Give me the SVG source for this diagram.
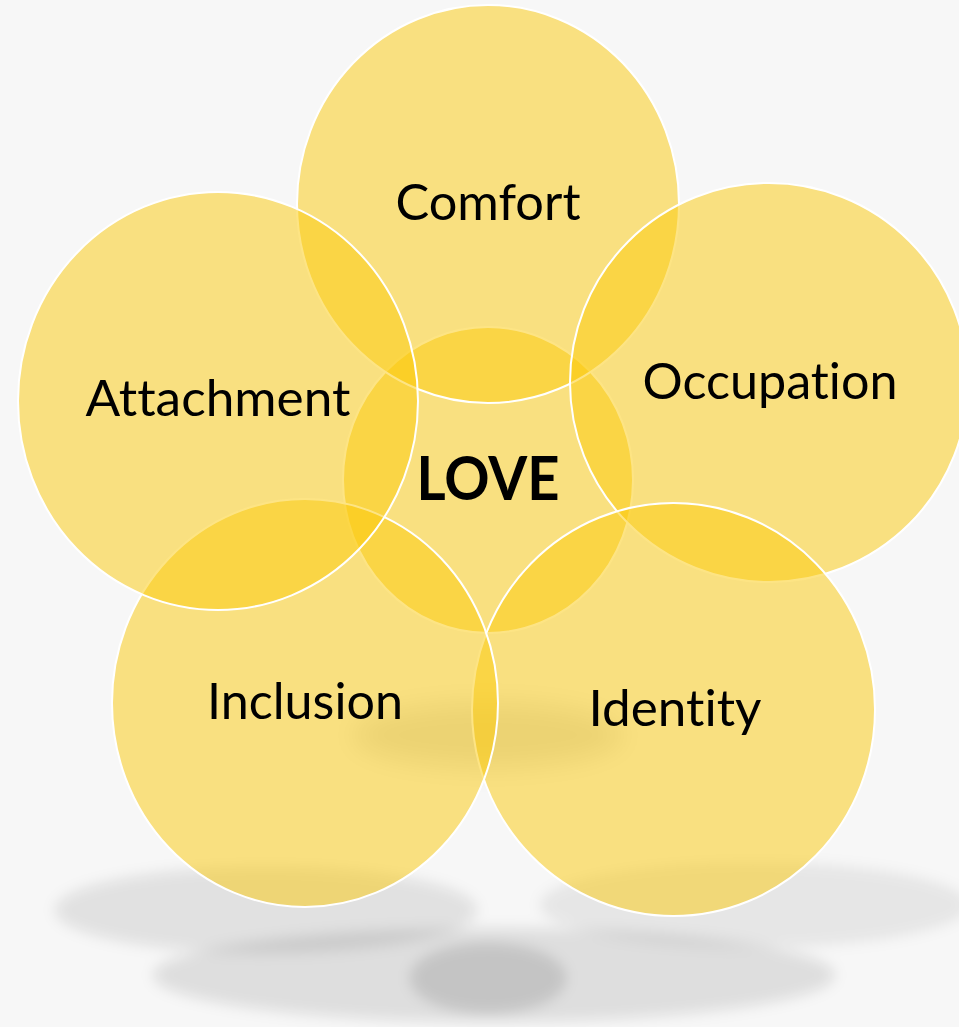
<svg xmlns="http://www.w3.org/2000/svg" width="959" height="1027" viewBox="0 0 959 1027">
<style>
.c{fill:#FBC909;fill-opacity:0.5;stroke:#FFFFFF;stroke-width:2}
.t{font-family:Lato,"Liberation Sans",sans-serif;font-size:50px;fill:#000;text-anchor:middle;font-variant-ligatures:none;font-feature-settings:"liga" 0}
.b{font-family:Lato,"Liberation Sans",sans-serif;font-size:62px;font-weight:bold;fill:#000;text-anchor:middle}
.s{fill:#000}
</style>
<defs>
<filter id="blur" x="-30%" y="-60%" width="160%" height="220%"><feGaussianBlur stdDeviation="7"/></filter>
<filter id="blur2" x="-40%" y="-100%" width="180%" height="300%"><feGaussianBlur stdDeviation="13"/></filter>
</defs>
<rect width="959" height="1027" fill="#F7F7F7"/>
<g id="shadows">
<g filter="url(#blur)">
<ellipse class="s" cx="266" cy="910" rx="211" ry="43" fill-opacity="0.09"/>
<ellipse class="s" cx="754" cy="905" rx="214" ry="42" fill-opacity="0.07"/>
<ellipse class="s" cx="494" cy="975" rx="341" ry="47" fill-opacity="0.1"/>
<ellipse class="s" cx="488" cy="978" rx="78" ry="35" fill-opacity="0.12"/>
</g>
<ellipse class="s" cx="488" cy="735" rx="135" ry="32" fill-opacity="0.11" filter="url(#blur2)"/>
</g>
<g id="connectors"/>
<g id="love">
<ellipse class="c" cx="488" cy="480" rx="145" ry="153"/>
<text class="b" x="488" y="500" textLength="143" lengthAdjust="spacingAndGlyphs">LOVE</text>
</g>
<g id="comfort">
<ellipse class="c" cx="488" cy="204" rx="191" ry="199"/>
<text class="t" x="488" y="220" textLength="185" lengthAdjust="spacingAndGlyphs">Comfort</text>
</g>
<g id="occupation">
<ellipse class="c" cx="769" cy="382.5" rx="199" ry="199.5"/>
<text class="t" x="770" y="399" textLength="255" lengthAdjust="spacingAndGlyphs">Occupation</text>
</g>
<g id="identity">
<ellipse class="c" cx="673.5" cy="709.5" rx="201.5" ry="206.5"/>
<text class="t" x="675" y="726" textLength="173" lengthAdjust="spacingAndGlyphs">Identity</text>
</g>
<g id="inclusion">
<ellipse class="c" cx="305" cy="703" rx="193" ry="204"/>
<text class="t" x="305" y="719" textLength="196" lengthAdjust="spacingAndGlyphs">Inclusion</text>
</g>
<g id="attachment">
<ellipse class="c" cx="218" cy="401" rx="200" ry="209"/>
<text class="t" x="218" y="416" textLength="265" lengthAdjust="spacingAndGlyphs">Attachment</text>
</g>
</svg>
